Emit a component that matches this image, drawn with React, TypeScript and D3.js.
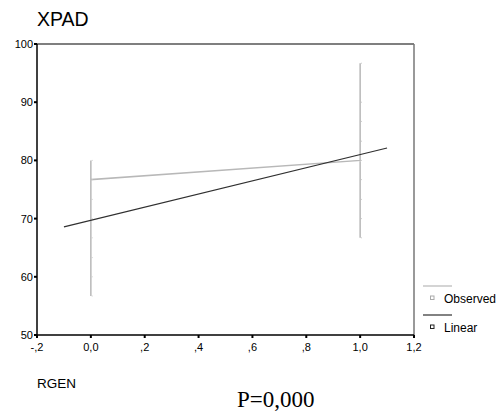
import React from "react";
import * as d3 from "d3";

const xTicks = [-0.2, 0, 0.2, 0.4, 0.6, 0.8, 1.0, 1.2];
const xTickLabels = ["-,2", "0,0", ",2", ",4", ",6", ",8", "1,0", "1,2"];
const yTicks = [50, 60, 70, 80, 90, 100];

// Observed points in data order (x = RGEN group, y = XPAD)
const observedX = [0, 0, 0, 0, 0, 0, 0, 0, 1, 1, 1, 1, 1, 1, 1, 1, 1];
const observedY = [56.7, 60.0, 63.3, 66.7, 70.0, 73.3, 80.0, 76.7, 80.0, 96.7, 90.0, 86.7, 83.3, 76.7, 73.3, 70.0, 66.7];

// Linear fit
const linearX = [-0.1, 1.1];
const linearIntercept = 69.7;
const linearSlope = 11.3;

const legendLabels = ["Observed", "Linear"];
const seriesColors = ["#b8b8b8", "#303030"];

export default function App() {
  const W = 499, H = 413;
  const left = 37, right = 414, top = 44, bottom = 335;
  const x = d3.scaleLinear().domain([-0.2, 1.2]).range([left, right]);
  const y = d3.scaleLinear().domain([50, 100]).range([bottom, top]);

  const obsPts: [number, number][] = observedX.map((v, i) => [v, observedY[i]]);
  const line = d3.line<[number, number]>().x(d => x(d[0])).y(d => y(d[1]));
  const linPts: [number, number][] = linearX.map(v => [v, linearIntercept + linearSlope * v]);

  const sans = "Arial, 'Liberation Sans', sans-serif";

  return (
    <svg width={W} height={H} style={{ position: "absolute", left: 0, top: 0, background: "#fff" }}>
      <text x={37} y={26} fontFamily={sans} fontSize={19.5}>XPAD</text>

      {/* frame */}
      <line x1={left} x2={right} y1={top} y2={top} stroke="#000" strokeWidth={1.2} />
      <line x1={right} x2={right} y1={top} y2={bottom} stroke="#777" strokeWidth={1.5} />
      <line x1={left} x2={left} y1={top} y2={bottom + 1} stroke="#000" strokeWidth={1.5} />
      <line x1={left} x2={right} y1={bottom} y2={bottom} stroke="#000" strokeWidth={1.5} />

      {/* y ticks */}
      {yTicks.map(t => (
        <g key={"y" + t}>
          <rect x={left - 3} y={y(t) - 1} width={3} height={2} fill="#000" />
          <text x={left - 4} y={y(t) + 4} textAnchor="end" fontFamily={sans} fontSize={11}>{t}</text>
        </g>
      ))}

      {/* x ticks */}
      {xTicks.map((t, i) => (
        <g key={"x" + i}>
          <rect x={x(t) - 1} y={bottom} width={2} height={3} fill="#000" />
          <text x={x(t)} y={351} textAnchor="middle" fontFamily={sans} fontSize={11}>{xTickLabels[i]}</text>
        </g>
      ))}

      {/* observed */}
      <path d={line(obsPts) || ""} fill="none" stroke={seriesColors[0]} strokeWidth={1.5} />
      {obsPts.map((p, i) => (
        <rect key={"o" + i} x={x(p[0]) + 0.8} y={y(p[1]) - 0.5} width={1} height={1} fill="#ccc" />
      ))}

      {/* linear */}
      <path d={line(linPts) || ""} fill="none" stroke={seriesColors[1]} strokeWidth={1.2} />

      {/* legend */}
      {legendLabels.map((lab, i) => (
        <g key={lab}>
          <line x1={423} x2={452} y1={286 + i * 29} y2={286 + i * 29} stroke={seriesColors[i]} strokeWidth={1.2} />
          <rect x={430.5} y={296 + i * 29} width={3.5} height={3.5} fill="none" stroke={i === 0 ? "#aaa" : "#222"} strokeWidth={1} />
          <text x={444} y={303 + i * 29} fontFamily={sans} fontSize={12}>{lab}</text>
        </g>
      ))}

      <text x={37} y={388} fontFamily={sans} fontSize={13.5}>RGEN</text>
      <text x={237} y={407} fontFamily="'Times New Roman', 'Liberation Serif', serif" fontSize={23}>P=0,000</text>
    </svg>
  );
}
